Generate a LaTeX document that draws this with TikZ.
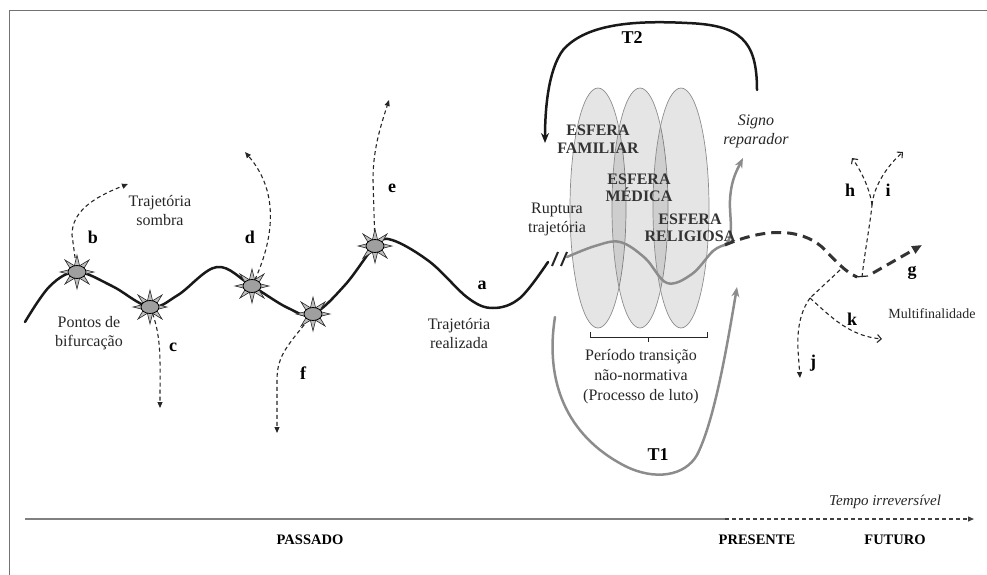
\documentclass[tikz,border=0pt]{standalone}
\usepackage{fontspec}
\setmainfont{Liberation Serif}
\usetikzlibrary{shapes.geometric,arrows.meta}
\begin{document}
\begin{tikzpicture}[x=1pt,y=-1pt,
  txt/.style={inner sep=0pt, align=center, text=black!85, font=\fontsize{16}{19}\selectfont},
  lbl/.style={inner sep=0pt, font=\bfseries\fontsize{18}{20}\selectfont},
  esf/.style={inner sep=0pt, align=center, text=black!80, font=\bfseries\fontsize{16}{17.5}\selectfont},
  axl/.style={inner sep=0pt, font=\bfseries\fontsize{14.5}{16}\selectfont},
  sphere/.style={ellipse, minimum width=56pt, minimum height=240pt, inner sep=0pt, draw=black!45, line width=0.7pt, fill=black, fill opacity=0.1},
  spikes/.style={star, star points=8, star point ratio=2.5, minimum size=34pt, inner sep=0pt, fill=gray!50, draw=black!85, line width=0.6pt},
  hub/.style={ellipse, minimum width=18pt, minimum height=13pt, inner sep=0pt, fill=gray!75, draw=black, line width=0.8pt},
  traj/.style={line width=2.5pt, black!90, line cap=round},
  grayt/.style={line width=2.5pt, black!45, line cap=round},
  branch/.style={line width=1.1pt, dash pattern=on 4pt off 3pt, black!85},
  thickdash/.style={line width=3pt, dash pattern=on 10pt off 6pt, black!80},
  tipf/.style={-{Triangle[length=6pt,width=5pt]}},
  tipo/.style={-{Straight Barb[length=4pt,width=8pt,line width=1.1pt]}},
  tips/.style={-{Stealth[length=10pt,width=8pt]}}
]
\useasboundingbox (0,0) rectangle (987,575);
% frame
\draw[black!55, line width=1pt] (9,575) -- (9,11) -- (987,11);

% spheres
\node[sphere] (fam) at (598,208) {};
\node[sphere] (med) at (640,208) {};
\node[sphere] (rel) at (681,208) {};

% star positions
\coordinate (pb) at (77,272);
\coordinate (pc) at (150,307);
\coordinate (pd) at (252,286);
\coordinate (pf) at (313,314);
\coordinate (pe) at (375,246);

% main trajectory
\draw[traj] plot[smooth, tension=0.6] coordinates {(25,322) (50,286) (77,272) (112,286) (150,307) (178,295) (217,267) (252,286) (288,308) (313,314) (345,285) (375,246) (392,240) (430,262) (468,298) (493,308) (520,298) (548,262)};

% dashed branches of the past
\coordinate (tb) at (128,184);
\coordinate (tc) at (160,408);
\coordinate (td) at (245,152);
\coordinate (te) at (389,100);
\coordinate (tf) at (277,433);
\draw[branch,tipf] (pb) -- (72,235) .. controls (72,212) and (92,198) .. (tb);
\draw[branch,tipf] (pc) .. controls (162,335) and (160,360) .. (tc);
\draw[branch,tipf] (pd) .. controls (272,245) and (282,195) .. (td);
\draw[branch,tipf] (pe) -- (373,180) .. controls (373,150) and (380,128) .. (te);
\draw[branch,tipf] (pf) .. controls (288,345) and (277,355) .. (277,380) -- (tf);

% stars
\foreach \n in {b,c,d,f,e}{
  \node[spikes] at (p\n) {};
  \node[hub] (s\n) at (p\n) {};
}

% break
\draw[line width=2pt, black!85] (552,266) -- (558,252);
\draw[line width=2pt, black!85] (561,266) -- (567,252);

% gray trajectory through the spheres
\coordinate (jn) at (725,245);
\coordinate (sr) at (743,158);
\draw[grayt] plot[smooth, tension=0.6] coordinates {(567,257) (595,246) (620,242) (645,258) (667,283) (692,274) (713,251) (jn)};
\draw[grayt,tips] (jn) .. controls (735,238) and (729,215) .. (730,200) .. controls (731,180) and (737,170) .. (sr);

% T2 loop
\coordinate (t2s) at (757,90);
\coordinate (t2e) at (545,143);
\draw[traj,tips] (t2s) .. controls (757,40) and (740,25) .. (687,23) .. controls (630,20) and (585,25) .. (563,50) .. controls (548,70) and (545,110) .. (t2e);

% T1 loop
\coordinate (t1s) at (555,317);
\coordinate (t1e) at (737,287);
\draw[grayt,tips] (t1s) .. controls (545,380) and (565,435) .. (625,466) .. controls (655,481) and (685,476) .. (697,455) .. controls (715,420) and (728,340) .. (t1e);

% bracket
\draw[line width=1pt, black!85] (590,332) -- (590,337) -- (707,337) -- (707,332);
\draw[line width=1pt, black!85] (648,337) -- (648,342);

% future
\coordinate (fk) at (857,277);
\coordinate (fj) at (840,270);
\draw[thickdash] (jn) .. controls (765,228) and (800,228) .. (822,247) .. controls (835,260) and (845,272) .. (fk);
\draw[line width=1.2pt, black!85] (855,277) -- (868,276);
\coordinate (g0) at (873,273);
\coordinate (g1) at (922,245);
\draw[thickdash,-{Triangle[length=10pt,width=8pt]}] (g0) -- (g1);
\coordinate (hi0) at (862,277);
\coordinate (hi) at (872,205);
\coordinate (th) at (852,158);
\coordinate (ti) at (903,152);
\draw[branch] (hi0) .. controls (865,250) and (870,225) .. (hi);
\draw[branch,tipo] (hi) .. controls (870,190) and (862,172) .. (th);
\draw[branch,tipo] (hi) .. controls (874,185) and (888,165) .. (ti);
\coordinate (jk) at (810,298);
\coordinate (tj) at (800,378);
\coordinate (tk) at (882,339);
\draw[branch] (fj) -- (jk);
\draw[branch,tipf] (jk) .. controls (800,312) and (797,330) .. (798,350) -- (tj);
\draw[branch,tipo] (jk) .. controls (832,318) and (850,336) .. (tk);

% time axis
\coordinate (ax0) at (25,519);
\coordinate (ax1) at (725,519);
\coordinate (ax2) at (974,519);
\draw[line width=1.5pt, black!50] (ax0) -- (ax1);
\draw[line width=1.3pt, black!75, dash pattern=on 4pt off 3pt, tipf] (ax1) -- (ax2);

% texts
\node[txt] (sombra) at (160,211) {Trajetória\\sombra};
\node[txt] (pontos) at (89,333) {Pontos de\\bifurcação};
\node[txt] (realiz) at (459,334) {Trajetória\\realizada};
\node[txt] (rupt) at (557,219) {Ruptura\\trajetória};
\node[esf] (efam) at (598,139) {ESFERA\\FAMILIAR};
\node[esf] (emed) at (639,188) {ESFERA\\MÉDICA};
\node[esf] (erel) at (690,228) {ESFERA\\RELIGIOSA};
\node[txt, font=\itshape\fontsize{16}{19}\selectfont] (signo) at (756,131) {Signo\\reparador};
\node[txt, font=\fontsize{16}{20}\selectfont] (periodo) at (641,377) {Período transição\\não-normativa\\(Processo de luto)};
\node[txt, font=\fontsize{14}{16}\selectfont] (multi) at (932,314) {Multifinalidade};
\node[txt, font=\itshape\fontsize{15}{17}\selectfont] (tempo) at (885,502) {Tempo irreversível};
\node[lbl] (la) at (482,285) {a};
\node[lbl] (lb) at (93,237) {b};
\node[lbl] (lc) at (173,347) {c};
\node[lbl] (ld) at (250,237) {d};
\node[lbl] (le) at (392,188) {e};
\node[lbl] (lf) at (303,373) {f};
\node[lbl] (lg) at (912,273) {g};
\node[lbl] (lh) at (850,190) {h};
\node[lbl] (li) at (888,190) {i};
\node[lbl] (lj) at (813,363) {j};
\node[lbl] (lk) at (852,319) {k};
\node[lbl] (lt2) at (632,38) {T2};
\node[lbl] (lt1) at (658,455) {T1};
\node[axl] (passado) at (310,540) {PASSADO};
\node[axl] (presente) at (757,540) {PRESENTE};
\node[axl] (futuro) at (895,540) {FUTURO};
\end{tikzpicture}
\end{document}
